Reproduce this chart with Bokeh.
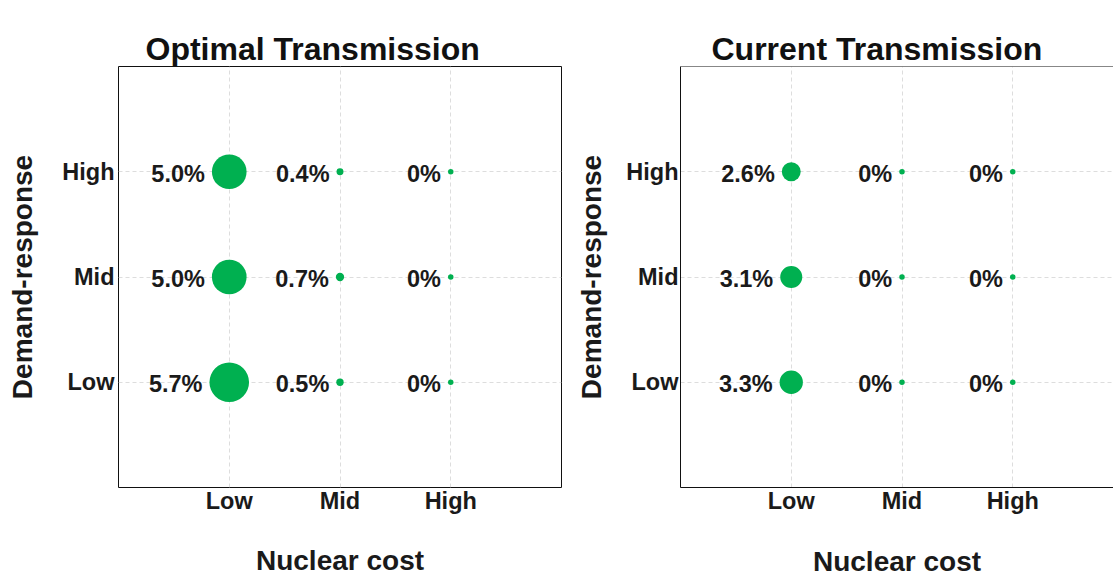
from bokeh.plotting import figure
from bokeh.models import FixedTicker, ColumnDataSource, Span, LinearAxis
from bokeh.layouts import row
from bokeh.core.properties import value
from bokeh.embed import file_html
from bokeh.resources import INLINE

# ---- data ----
levels = ["Low", "Mid", "High"]
nuclear_cost = ["Low", "Mid", "High", "Low", "Mid", "High", "Low", "Mid", "High"]
demand_response = ["High", "High", "High", "Mid", "Mid", "Mid", "Low", "Low", "Low"]
optimal_values = [5.0, 0.4, 0.0, 5.0, 0.7, 0.0, 5.7, 0.5, 0.0]
optimal_labels = ["5.0%", "0.4%", "0%", "5.0%", "0.7%", "0%", "5.7%", "0.5%", "0%"]
current_values = [2.6, 0.0, 0.0, 3.1, 0.0, 0.0, 3.3, 0.0, 0.0]
current_labels = ["2.6%", "0%", "0%", "3.1%", "0%", "0%", "3.3%", "0%", "0%"]

GREEN = "#00B050"
FONT = value("Liberation Sans")
INK = "#1a1a1a"


def make_panel(title, vals, labels, width, borders, x_end, title_offset, title_gap,
               ytick_standoff, ylab_standoff, xlab_standoff, outline):
    b_left, b_right, b_top, b_bottom = borders
    pos = {c: i + 1 for i, c in enumerate(levels)}
    diam = [5.5 + 4.3 * v ** 1.19 for v in vals]
    src = ColumnDataSource(dict(
        x=[pos[c] for c in nuclear_cost],
        y=[pos[c] for c in demand_response],
        size=diam,
        xoff=[-(d / 2 + 7) for d in diam],
        label=labels,
    ))
    p = figure(width=width, height=581, x_range=(0, x_end), y_range=(0, 4),
               output_backend="svg", toolbar_location=None,
               min_border_left=b_left, min_border_right=b_right,
               min_border_top=b_top, min_border_bottom=b_bottom)
    p.title.text = title
    p.title.align = "left"
    p.title.offset = title_offset
    p.title.standoff = 0
    p.title.text_font = "Liberation Sans"
    p.title.text_font_size = "32px"
    p.title.text_font_style = "bold"
    p.title.text_color = "#111111"

    xa = p.below[0]
    ya = p.left[0]
    for ax, lab in ((xa, "Nuclear cost"), (ya, "Demand-response")):
        ax.ticker = FixedTicker(ticks=[1, 2, 3])
        ax.major_label_overrides = {i + 1: c for i, c in enumerate(levels)}
        ax.major_tick_line_color = None
        ax.minor_tick_line_color = None
        ax.major_tick_in = 0
        ax.major_tick_out = 0
        ax.major_label_text_font = "Liberation Sans"
        ax.major_label_text_font_style = "bold"
        ax.major_label_text_font_size = "23.5px"
        ax.major_label_text_color = INK
        ax.axis_label = lab
        ax.axis_label_text_font = "Liberation Sans"
        ax.axis_label_text_font_style = "bold"
        ax.axis_label_text_font_size = "28px"
        ax.axis_label_text_color = INK
    xa.major_label_standoff = 0
    xa.axis_label_standoff = xlab_standoff
    ya.major_label_standoff = ytick_standoff
    ya.axis_label_standoff = ylab_standoff

    if outline:
        p.outline_line_color = "#111111"
        p.outline_line_width = 1
        xa.axis_line_color = None
        ya.axis_line_color = None
    else:
        p.outline_line_color = None
        xa.axis_line_color = "#111111"
        ya.axis_line_color = "#111111"
        p.add_layout(Span(location=4, dimension="width", line_color="#111111", line_width=1))

    p.xgrid.grid_line_color = "#dddddd"
    p.ygrid.grid_line_color = "#dddddd"
    p.xgrid.grid_line_dash = "4 3"
    p.ygrid.grid_line_dash = "4 3"

    # invisible axis above the frame: only a gap between frame and title
    gap = LinearAxis(ticker=FixedTicker(ticks=[]), major_tick_out=title_gap,
                     major_tick_in=0, minor_tick_out=0, minor_tick_in=0,
                     major_tick_line_color=None, minor_tick_line_color=None,
                     axis_line_color=None, major_label_standoff=0)
    p.add_layout(gap, "above")

    p.scatter("x", "y", size="size", source=src, fill_color=GREEN, line_color=None)
    p.text("x", "y", text="label", source=src, x_offset="xoff", y_offset=2,
           text_align="right", text_baseline="middle", text_font=FONT,
           text_font_style="bold", text_font_size="23.5px", text_color=INK)
    return p


left = make_panel("Optimal Transmission", optimal_values, optimal_labels,
                  570, (118, 9, 65, 93), 4.0, 27, 22, 4, 21, 28, True)
right = make_panel("Current Transmission", current_values, current_labels,
                   543, (110, 0, 66, 94), 433 / 110.75, 31, 23, 2, 16, 29, False)

layout = row(left, right)
open("out.html", "w").write(file_html(layout, INLINE))
